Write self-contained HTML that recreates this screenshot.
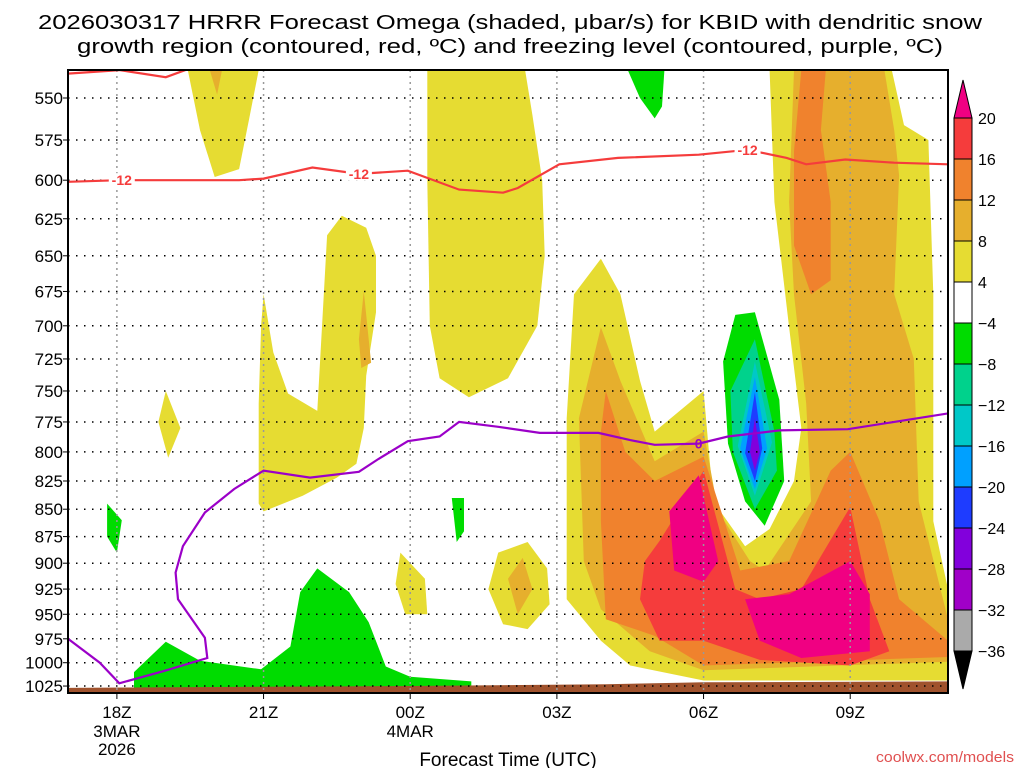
<!DOCTYPE html>
<html><head><meta charset="utf-8"><style>
html,body{margin:0;padding:0;background:#fff;}
svg{display:block;font-family:"Liberation Sans",sans-serif;}
</style></head><body>
<svg id="chart" width="1024" height="768" viewBox="0 0 1024 768" xmlns="http://www.w3.org/2000/svg">
<text x="38" y="29" font-size="20" textLength="944" lengthAdjust="spacingAndGlyphs">2026030317 HRRR Forecast Omega (shaded, μbar/s) for KBID with dendritic snow</text>
<text x="77" y="53" font-size="20" textLength="866" lengthAdjust="spacingAndGlyphs">growth region (contoured, red, ºC) and freezing level (contoured, purple, ºC)</text>
<g id="plot"></g>
<text x="508" y="766" font-size="19" text-anchor="middle">Forecast Time (UTC)</text>
<text x="1014" y="762" font-size="15" text-anchor="end" fill="#e05050" textLength="138" lengthAdjust="spacingAndGlyphs">coolwx.com/models</text>
</svg>
<script>
const pressureTicks=[550,575,600,625,650,675,700,725,750,775,800,825,850,875,900,925,950,975,1000,1025];
const hourTicks=[18,21,24,27,30,33];
const hourLabels=["18Z","21Z","00Z","03Z","06Z","09Z"];
const dateLabels=[["3MAR","2026"],[],["4MAR"],[],[],[]];
const cbLevels=[20,16,12,8,4,-4,-8,-12,-16,-20,-24,-28,-32,-36];
const cbColors=["#f53c3c","#f0822d","#e6af2d","#e6dc32","#ffffff","#00dc00","#00d28c","#00c8c8","#00a0ff","#1e3cff","#8200dc","#a000c8","#aaaaaa"];
const yellowRegions=[
[[19.45,534],[20.9,534],[20.7,563],[20.5,593],[20.0,598],[19.7,569]],
[[24.35,534],[26.35,534],[26.5,560],[26.7,600],[26.75,650],[26.6,700],[26.0,740],[25.2,755],[24.6,740],[24.4,700],[24.35,600]],
[[21.0,677],[21.2,720],[21.5,752],[22.1,766],[22.3,636],[22.6,623],[23.1,631],[23.3,650],[23.3,690],[23.1,738],[23.05,780],[22.9,810],[22.5,822],[21.8,838],[21.0,852],[20.9,845],[20.9,760],[20.95,700]],
[[19.0,750],[19.3,780],[19.05,805],[18.85,775]],
[[23.8,890],[24.3,915],[24.35,950],[23.9,950],[23.7,920]],
[[25.6,925],[25.8,890],[26.4,880],[26.8,905],[26.85,940],[26.4,965],[25.9,960]],
[[27.2,772],[27.35,677],[27.9,652],[28.3,677],[28.7,742],[29.0,783],[30.0,750],[30.2,843],[30.85,884],[31.35,868],[31.85,825],[32.0,780],[31.75,701],[31.45,614],[31.35,534],[33.85,534],[34.1,566],[34.6,575],[34.7,677],[34.7,861],[35,925],[35,1019],[30,1019],[28.5,1003],[27.9,977],[27.2,935]]
];
const orangeRegions=[
[[19.9,534],[20.15,534],[20.05,548]],
[[23.05,675],[23.2,728],[23.0,732],[22.95,710]],
[[26.0,915],[26.3,895],[26.5,925],[26.2,950]],
[[27.45,772],[27.9,701],[28.3,742],[29.0,808],[30.0,783],[30.3,852],[30.95,898],[31.25,907],[32.2,843],[32.1,760],[31.85,677],[31.75,614],[31.85,534],[33.7,534],[33.9,569],[34.0,597],[33.9,677],[34.3,725],[34.4,843],[35,955],[35,999],[30,1008],[28.9,988],[27.9,945],[27.55,898]]
];
const darkOrangeRegions=[
[[27.9,783],[28.0,750],[28.4,800],[29.0,825],[30.0,804],[30.75,907],[31.75,898],[32.6,816],[33.0,800],[33.6,861],[34.0,935],[35,977],[35,994],[30,1003],[29.0,972],[28.0,955],[27.9,861]],
[[32.0,534],[32.5,534],[32.4,569],[32.6,614],[32.6,667],[32.2,677],[31.85,643],[31.85,582]]
];
const redRegions=[
[[29.1,879],[30.0,816],[30.65,925],[31.15,935],[32.0,925],[33.0,848],[33.4,935],[33.8,988],[33.0,1003],[31.15,997],[30.0,977],[29.1,977],[28.7,935],[28.8,898]]
];
const magentaRegions=[
[[29.9,820],[30.3,898],[30.0,918],[29.4,907],[29.3,852]],
[[30.85,935],[31.75,930],[33.0,898],[33.4,930],[33.4,988],[32.0,995],[31.15,977]]
];
const greenRegions=[
[[28.45,534],[29.2,534],[29.15,555],[29.0,562],[28.7,550]],
[[17.8,845],[18.1,860],[18.0,890],[17.8,875]],
[[24.85,840],[25.1,840],[25.1,870],[24.95,880]],
[[18.35,1010],[19.0,978],[19.7,998],[20.95,1007],[21.55,983],[21.75,928],[22.1,905],[22.75,928],[23.15,958],[23.5,1004],[24.0,1015],[25.25,1020],[25.25,1030],[18.35,1030]],
[[30.65,692],[31.05,690],[31.55,757],[31.65,825],[31.25,865],[30.85,843],[30.5,793],[30.4,727]]
];
const tealRegion=[[31.05,710],[31.45,783],[31.5,816],[31.05,850],[30.6,800],[30.55,750]];
const cyanRegion=[[31.05,727],[31.4,792],[31.05,838],[30.7,795]];
const lightBlueRegion=[[31.05,739],[31.3,797],[31.05,832],[30.75,797]];
const blueRegion=[[31.05,751],[31.2,797],[31.05,825],[30.85,801]];
const purpleRegion=[[31.05,772],[31.15,800],[31.05,816],[30.95,800]];
const groundLine=[[17,1027],[20,1026],[24,1025],[28,1023],[30,1021],[35,1020]];
const dgzLine=[[17,601],[18.05,600],[20.5,600],[21.0,599],[22.0,592],[22.95,596],[23.95,594],[25.0,606],[25.9,608],[26.2,605],[27.05,590],[28.25,586],[29.9,584],[30.9,581],[31.7,586],[32.1,590],[32.9,587],[33.9,589],[35,590]];
const dgzTopLine=[[17,536],[18.05,534],[19.0,538],[19.5,533]];
const dgzLabels=[[18.1,600],[22.95,596],[30.9,581]];
const frzLine=[[17,975],[17.65,1000],[18.05,1022],[18.95,1009],[19.85,995],[19.8,974],[19.25,935],[19.2,909],[19.35,884],[19.8,853],[20.4,832],[21.0,816],[21.95,822],[22.95,817],[23.35,806],[23.95,791],[24.6,787],[25.0,775],[25.8,779],[26.65,784],[27.85,784],[28.5,790],[29.0,794],[29.9,793],[30.5,787],[31.55,782],[32.95,781],[33.9,775],[35,768]];
const frzLabel=[29.9,793];

const X0=68,X1=948,Y0=70,Y1=693,H0=17,H1=35;
const xs=h=>X0+(h-H0)*(X1-X0)/(H1-H0);
const ys=p=>98+944.6*Math.log(p/550);
const NS="http://www.w3.org/2000/svg";
const plot=document.getElementById('plot');
function mk(tag,attrs,parent){const e=document.createElementNS(NS,tag);for(const k in attrs)e.setAttribute(k,attrs[k]);(parent||plot).appendChild(e);return e;}
const pts=a=>a.map(d=>xs(d[0]).toFixed(1)+','+ys(d[1]).toFixed(1)).join(' ');

const clip=mk('clipPath',{id:'pc'});mk('rect',{x:X0,y:Y0,width:X1-X0,height:Y1-Y0},clip);
const g=mk('g',{'clip-path':'url(#pc)'});
function fillSet(list,color,name){list.forEach(r=>{const e=mk('polygon',{points:pts(r),fill:color},g);

});}
fillSet(yellowRegions,'#e6dc32','omega-4-8');
fillSet(orangeRegions,'#e6af2d','omega-8-12');
fillSet(darkOrangeRegions,'#f0822d','omega-12-16');
fillSet(redRegions,'#f53c3c','omega-16-20');
fillSet(magentaRegions,'#f00082','omega-gt-20');
fillSet(greenRegions,'#00dc00','omega-neg4-8');
fillSet([tealRegion],'#00d28c','omega-neg8-12');
fillSet([cyanRegion],'#00c8c8','omega-neg12-16');
fillSet([lightBlueRegion],'#00a0ff','omega-neg16-20');
fillSet([blueRegion],'#1e3cff','omega-neg20-24');
fillSet([purpleRegion],'#8200dc','omega-neg24-28');
const gp=groundLine.concat([[35,1040],[17,1040]]);
const ground=mk('polygon',{points:pts(gp),fill:'#a0522d'},g);



pressureTicks.forEach(p=>{const l=mk('line',{x1:X0,x2:X1,y1:ys(p),y2:ys(p),stroke:'#000','stroke-width':1.5,'stroke-dasharray':'1.5 6.5'},g);

});
hourTicks.forEach(h=>{const l=mk('line',{x1:xs(h),x2:xs(h),y1:Y0,y2:Y1,stroke:'#999','stroke-width':1.5,'stroke-dasharray':'2 4'},g);

});

function line(a,color,name){const e=mk('polyline',{points:pts(a),fill:'none',stroke:color,'stroke-width':2.2},g);

}
line(dgzLine,'#f53c3c','dgz-isotherm-minus12');
line(dgzTopLine,'#f53c3c','dgz-isotherm-top');
line(frzLine,'#9b00c8','freezing-level-line');
dgzLabels.forEach(d=>{mk('rect',{x:xs(d[0])-13,y:ys(d[1])-7,width:26,height:14,fill:'#fff'},g);
const t=mk('text',{x:xs(d[0]),y:ys(d[1])+5,'font-size':14,'font-weight':'bold','text-anchor':'middle',fill:'#f53c3c'},g);t.textContent='-12';

});
const fl=mk('text',{x:xs(frzLabel[0]),y:ys(frzLabel[1])+5,'font-size':14,'font-weight':'bold','text-anchor':'middle',fill:'#9b00c8'},g);fl.textContent='0';



const fr=mk('rect',{x:X0,y:Y0,width:X1-X0,height:Y1-Y0,fill:'none',stroke:'#000','stroke-width':2});



pressureTicks.forEach(p=>{mk('line',{x1:X0-5,x2:X0,y1:ys(p),y2:ys(p),stroke:'#000'});
const t=mk('text',{x:X0-5,y:ys(p)+6,'font-size':17,'text-anchor':'end'});t.textContent=p;

});
hourTicks.forEach((h,i)=>{mk('line',{x1:xs(h),x2:xs(h),y1:Y1,y2:Y1+6,stroke:'#000'});
const t=mk('text',{x:xs(h),y:718,'font-size':17,'text-anchor':'middle'});t.textContent=hourLabels[i];


dateLabels[i].forEach((s,j)=>{const d=mk('text',{x:xs(h),y:737+j*18,'font-size':17,'text-anchor':'middle'});d.textContent=s;

});});

const CB_X=954,CB_W=18,CB_T=118,CB_B=651;
const bh=(CB_B-CB_T)/cbColors.length;
const cb=mk('g',{});


mk('polygon',{points:`${CB_X},${CB_T} ${CB_X+CB_W},${CB_T} ${CB_X+CB_W/2},${CB_T-38}`,fill:'#f00082',stroke:'#000'},cb);
cbColors.forEach((c,i)=>{mk('rect',{x:CB_X,y:CB_T+i*bh,width:CB_W,height:bh,fill:c,stroke:'#000','stroke-width':1},cb);});
mk('polygon',{points:`${CB_X},${CB_B} ${CB_X+CB_W},${CB_B} ${CB_X+CB_W/2},${CB_B+38}`,fill:'#000',stroke:'#000'},cb);
cbLevels.forEach((v,i)=>{const t=mk('text',{x:CB_X+24,y:CB_T+i*bh+6,'font-size':16},cb);t.textContent=v<0?'\u2212'+Math.abs(v):v;

});
</script>
</body></html>
